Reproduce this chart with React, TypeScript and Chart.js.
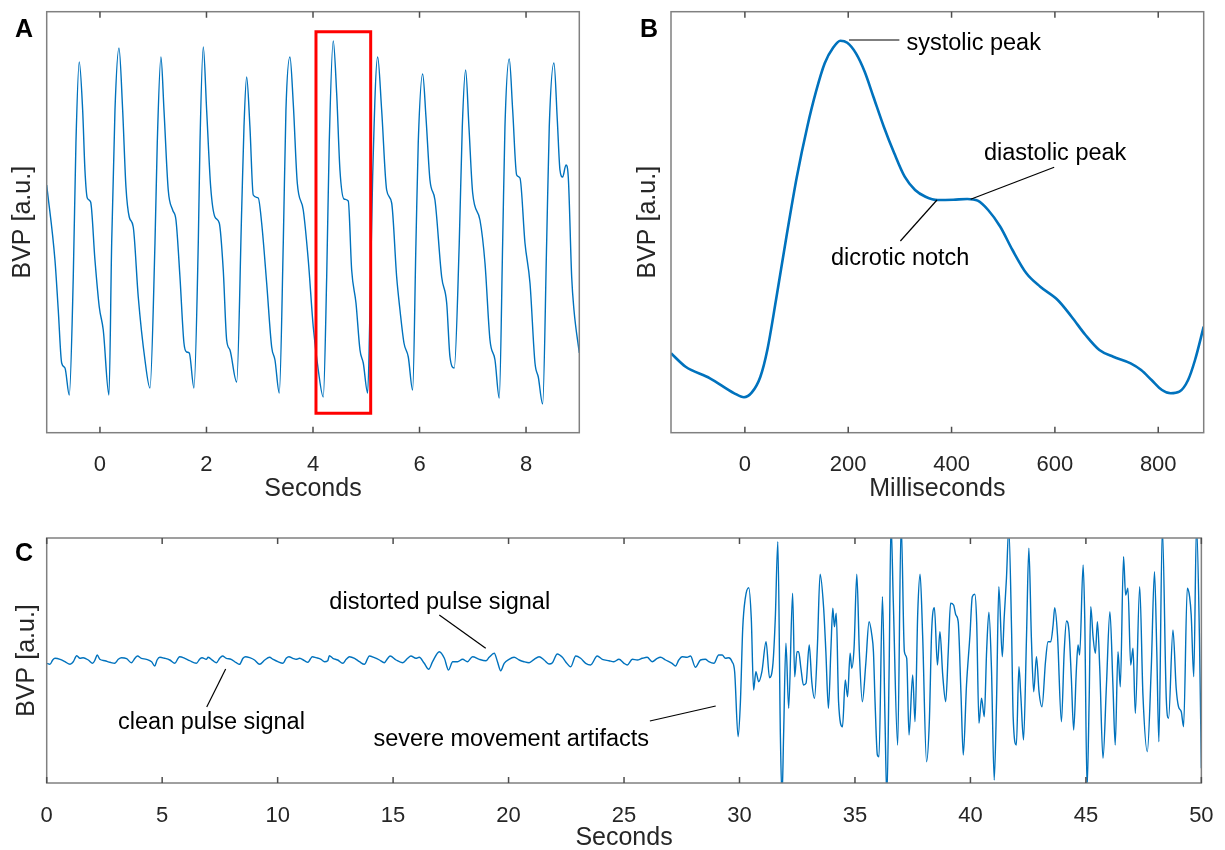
import React, { useEffect, useRef } from "react";
import { Chart, registerables } from "chart.js";

Chart.register(...registerables);

const FONT = '"Liberation Sans", Arial, Helvetica, sans-serif';
const BLUE = "#0072BD";
const TEXT = "#262626";

// ---------- Panel A : BVP over seconds ----------
const aSeconds = [
  -1.0, -0.845, -0.783, -0.719, -0.657, -0.576, -0.501, -0.451, -0.389, -0.325,
  -0.282, -0.238, -0.175, -0.094, -0.013, 0.062, 0.169, 0.22, 0.282, 0.357,
  0.426, 0.488, 0.55, 0.625, 0.719, 0.845, 0.939, 1.033, 1.076, 1.145,
  1.202, 1.282, 1.365, 1.427, 1.502, 1.577, 1.628, 1.677, 1.765, 1.846,
  1.878, 1.94, 2.003, 2.079, 2.159, 2.24, 2.315, 2.379, 2.441, 2.567,
  2.661, 2.704, 2.754, 2.816, 2.878, 2.972, 3.036, 3.13, 3.224, 3.286,
  3.367, 3.442, 3.492, 3.567, 3.629, 3.705, 3.817, 3.911, 4.005, 4.099,
  4.193, 4.257, 4.305, 4.38, 4.444, 4.506, 4.581, 4.662, 4.726, 4.807,
  4.882, 4.944, 5.026, 5.07, 5.12, 5.214, 5.289, 5.383, 5.477, 5.571,
  5.633, 5.708, 5.789, 5.871, 5.933, 5.976, 6.059, 6.121, 6.196, 6.29,
  6.416, 6.51, 6.572, 6.652, 6.746, 6.803, 6.866, 6.928, 6.998, 7.135,
  7.229, 7.323, 7.417, 7.497, 7.561, 7.604, 7.685, 7.749, 7.824, 7.886,
  7.98, 8.074, 8.168, 8.23, 8.312, 8.387, 8.436, 8.524, 8.587, 8.637,
  8.687, 8.75, 8.793, 8.857, 8.9, 9.0,
];
const aBvp = [
  248, 173, 123, 70, 65, 38, 156, 290, 371, 323,
  263, 235, 231, 173, 126, 103, 38, 190, 323, 385,
  323, 246, 216, 206, 136, 73, 45, 190, 290, 376,
  323, 243, 223, 213, 156, 90, 81, 80, 45, 190,
  290, 386, 323, 246, 216, 210, 163, 93, 83, 51,
  223, 306, 356, 306, 238, 235, 210, 150, 86, 73,
  40, 190, 323, 376, 330, 250, 223, 173, 106, 63,
  36, 156, 290, 392, 340, 263, 234, 232, 163, 130,
  83, 70, 40, 123, 256, 376, 323, 243, 230, 156,
  123, 90, 76, 43, 190, 290, 359, 316, 253, 233,
  156, 130, 76, 65, 190, 306, 363, 306, 240, 213,
  170, 93, 73, 35, 190, 306, 374, 323, 258, 255,
  190, 150, 70, 56, 29, 190, 306, 370, 313, 263,
  256, 268, 256, 156, 123, 80,
];
const aTicks = [0, 2, 4, 6, 8];
const aHighlightSeconds = [4.056, 4.056, 5.083, 5.083, 4.056];
const aHighlightBvp = [19.7, 401.3, 401.3, 19.7, 19.7];

// ---------- Panel B : single beat over milliseconds ----------
const bMilliseconds = [
  -143, -114.7, -67.6, -20.5, -1.7, 13.1, 30, 43.4, 60.2, 80.4,
  100.6, 120.8, 137.6, 154.5, 171.3, 184.8, 198.2, 215, 231.9, 248.7,
  268.9, 289.1, 309.3, 329.4, 349.6, 373.2, 403.5, 430.4, 450.6, 470.8,
  494.3, 517.9, 544.8, 571.7, 605.4, 632.3, 659.2, 686.1, 713, 746.7,
  766.9, 787.1, 807.3, 824.1, 840.9, 857.8, 871.2, 888,
];
const bBvp = [
  79.7, 66.3, 54.7, 39.7, 35.7, 40.3, 56.3, 83, 133, 196.3,
  256.3, 306.3, 341.3, 369.7, 385.7, 392.3, 390.3, 379.7, 361.3, 336.3,
  306.3, 279.7, 256.3, 243, 236.3, 233, 233.3, 234, 232.3, 223,
  206.3, 183, 159.7, 146.3, 133, 116.3, 98, 83, 76.3, 69.7,
  63, 53, 43, 39.7, 41.3, 53, 73, 106.3,
];
const bTicks = [0, 200, 400, 600, 800];
const bNotes = [
  { text: "systolic peak", tx: 312.6, ty: 383, x1: 201.6, y1: 393, x2: 299, y2: 393 },
  { text: "diastolic peak", tx: 462.7, ty: 273, x1: 437, y1: 233.7, x2: 598.6, y2: 265.7 },
  { text: "dicrotic notch", tx: 166.6, ty: 168, x1: 371.8, y1: 233, x2: 301, y2: 192 },
];

// ---------- Panel C : 50 s recording with artifacts ----------
const cSeconds = [
  0, 0.14, 0.26, 0.36, 0.58, 0.79, 1.01, 1.15, 1.3, 1.44,
  1.58, 1.8, 1.99, 2.09, 2.19, 2.3, 2.52, 2.74, 2.95, 3.1,
  3.24, 3.46, 3.67, 3.82, 3.93, 4.1, 4.32, 4.54, 4.68, 4.78,
  4.9, 5.11, 5.33, 5.55, 5.69, 5.76, 5.98, 6.19, 6.48, 6.63,
  6.73, 6.91, 6.99, 7.2, 7.35, 7.49, 7.61, 7.78, 7.99, 8.21,
  8.35, 8.5, 8.61, 8.79, 9.0, 9.22, 9.44, 9.65, 9.8, 10.01,
  10.23, 10.37, 10.49, 10.66, 10.8, 10.95, 11.16, 11.31, 11.41, 11.5,
  11.67, 11.88, 12.03, 12.17, 12.24, 12.39, 12.6, 12.82, 12.97, 13.11,
  13.33, 13.54, 13.76, 13.9, 13.97, 14.19, 14.41, 14.62, 14.77, 14.87,
  15.13, 15.41, 15.63, 15.77, 15.99, 16.13, 16.35, 16.54, 16.71, 17.0,
  17.22, 17.4, 17.58, 17.79, 18.01, 18.22, 18.44, 18.73, 19.02, 19.16,
  19.38, 19.52, 19.66, 19.81, 20.02, 20.24, 20.46, 20.67, 20.89, 21.11,
  21.32, 21.54, 21.75, 21.9, 22.11, 22.33, 22.47, 22.69, 22.91, 23.12,
  23.34, 23.55, 23.84, 24.06, 24.35, 24.56, 24.78, 25.0, 25.14, 25.36,
  25.57, 25.79, 26.0, 26.22, 26.44, 26.58, 26.8, 27.08, 27.23, 27.37,
  27.52, 27.73, 27.88, 28.09, 28.31, 28.52, 28.67, 28.89, 29.1, 29.25,
  29.39, 29.53, 29.68, 29.79, 29.94, 30.04, 30.14, 30.25, 30.4, 30.51,
  30.61, 30.71, 30.83, 30.97, 31.15, 31.3, 31.45, 31.55, 31.66, 31.77,
  31.84, 31.91, 32.01, 32.13, 32.3, 32.39, 32.49, 32.56, 32.66, 32.77,
  32.88, 33.02, 33.13, 33.25, 33.37, 33.49, 33.64, 33.74, 33.85, 33.96,
  34.04, 34.11, 34.19, 34.29, 34.46, 34.58, 34.68, 34.79, 34.86, 34.96,
  35.08, 35.19, 35.32, 35.47, 35.61, 35.73, 35.8, 35.87, 35.97, 36.04,
  36.19, 36.3, 36.38, 36.48, 36.56, 36.66, 36.85, 37.0, 37.14, 37.24,
  37.34, 37.5, 37.6, 37.72, 37.82, 37.93, 38.1, 38.22, 38.32, 38.44,
  38.57, 38.68, 38.8, 38.93, 39.04, 39.14, 39.27, 39.37, 39.47, 39.59,
  39.69, 39.83, 39.98, 40.08, 40.19, 40.27, 40.37, 40.48, 40.6, 40.7,
  40.8, 40.91, 41.03, 41.13, 41.23, 41.38, 41.46, 41.56, 41.66, 41.78,
  41.85, 41.99, 42.1, 42.18, 42.3, 42.43, 42.53, 42.64, 42.74, 42.86,
  42.97, 43.1, 43.25, 43.36, 43.48, 43.58, 43.65, 43.77, 43.94, 44.06,
  44.16, 44.27, 44.37, 44.47, 44.59, 44.66, 44.73, 44.88, 44.95, 45.05,
  45.14, 45.21, 45.31, 45.41, 45.5, 45.6, 45.74, 45.89, 46.04, 46.17,
  46.27, 46.39, 46.49, 46.63, 46.72, 46.82, 46.94, 47.04, 47.14, 47.33,
  47.47, 47.66, 47.83, 47.97, 48.07, 48.16, 48.31, 48.48, 48.58, 48.77,
  48.91, 49.01, 49.13, 49.23, 49.39, 49.49, 49.56, 49.67, 49.79, 49.92,
  50.0,
];
const cBvp = [
  119.7, 118.7, 123, 124.7, 123.7, 121.3, 118.7, 121.3, 127.3, 124.7,
  125.3, 123, 119.7, 123, 128, 123.7, 122.3, 120.7, 119.7, 123.7,
  125.3, 124.3, 120.3, 124.7, 127, 124.7, 123.7, 121.3, 117, 123,
  125.7, 124.7, 123, 119.7, 124.7, 126.3, 124.7, 122.3, 119.7, 124,
  125.3, 123.7, 125.7, 122.3, 120.3, 124.7, 127, 124.7, 123.7, 120.3,
  118.7, 124.7, 126.3, 125.3, 123, 118.7, 123, 125.7, 123.7, 121.3,
  119.7, 124.7, 126.3, 124.7, 123.7, 124.7, 122.3, 120.7, 123.7, 126.3,
  125.3, 123.7, 121.3, 122.3, 127.3, 124.7, 123, 119.7, 123.7, 126.3,
  124.7, 121.3, 118.7, 124.7, 127, 125.3, 123, 120.3, 124.7, 127,
  123, 120.3, 124.7, 127, 124.7, 125.7, 119.7, 113.7, 121.3, 131.3,
  124.7, 113, 121.3, 121.3, 123.7, 121.3, 126.3, 123.7, 122.3, 125.7,
  129.7, 121.3, 112.3, 119.7, 123.7, 125.7, 123, 121.3, 120.3, 123.7,
  126.3, 123, 119, 120.3, 129, 125.7, 121.3, 116.3, 127, 124.7,
  119.7, 118, 127, 123.7, 122.3, 121.3, 123.7, 119.7, 118, 123.7,
  123, 124.7, 125.7, 121.3, 124.7, 125.7, 123, 119.7, 117, 123,
  126.3, 125.7, 127, 115.7, 123, 123.7, 121.3, 119.7, 128, 128,
  124.7, 125.3, 121.3, 111.3, 46.3, 81.3, 154.7, 184.7, 195.3, 164.7,
  93, 111.3, 101.3, 111.3, 141.3, 105.3, 119.7, 164.7, 241.3, 48,
  -15, 48, 139.7, 74.7, 189.7, 106.3, 131.3, 131.3, 114.7, 98,
  99.7, 138, 101.3, 84.7, 134.7, 208.7, 176.3, 131.3, 74.7, 134.7,
  174.7, 156.3, 169.7, 81.3, 56.3, 103, 86.3, 129.7, 114.7, 134.7,
  208.7, 131.3, 81.3, 119.7, 161.3, 148, 131.3, 81.3, 28, 26.3,
  186.3, 64.7, -15, 114.7, 260, 181.3, 38, 260, 131.3, 124.7,
  48, 108, 61.3, 171.3, 208.7, 148, 21.3, 61.3, 151.3, 175.3,
  118, 151.3, 108, 81.3, 131.3, 179.7, 178, 168, 161.3, 90,
  28, 98, 148, 186.3, 188.7, 161.3, 59.7, 84.7, 66.3, 131.3,
  170.7, 114.7, 3, 81.3, 196.3, 126.3, 164.7, 204.7, 255, 154.7,
  66.3, 38, 116.3, 88, 43, 148, 234.7, 144.7, 91.3, 126.3,
  91.3, 76.3, 121.3, 141.3, 141.3, 158, 175.3, 148, 61.3, 131.3,
  162, 151.3, 104.7, 53, 114.7, 138, 128, 218, 164.7, -5,
  81.3, 176.3, 146.3, 129.7, 161.3, 114.7, 24.7, 98, 171.3, 98,
  38, 131.3, 96.3, 226.3, 188, 194.7, 118, 134.7, 69.7, 196.3,
  88, 31.3, 114.7, 211.3, 131.3, 41.3, 255, 84.7, 64.7, 153,
  94.7, 76.3, 71.3, 56.3, 194.7, 186.3, 168, 106.3, 258, 141.3,
  14.7,
];
const cTicks = [0, 5, 10, 15, 20, 25, 30, 35, 40, 45, 50];
const cNotes = [
  { text: "distorted pulse signal", tx: 12.24, ty: 174, x1: 17.0, y1: 168, x2: 19.01, y2: 134.7 },
  { text: "clean pulse signal", tx: 3.09, ty: 54, x1: 7.75, y1: 114, x2: 6.93, y2: 76 },
  { text: "severe movement artifacts", tx: 14.15, ty: 37, x1: 26.12, y1: 62, x2: 28.97, y2: 77 },
];

type Note = { text: string; tx: number; ty: number; x1: number; y1: number; x2: number; y2: number };

function makeDecor(letter: string, lx: number, ly: number, notes: Note[]) {
  return {
    id: "panelDecor",
    afterDraw(chart: any) {
      const { ctx, chartArea: a, scales } = chart;
      const xs = scales.x;
      const ys = scales.y;
      ctx.save();
      // axes box
      ctx.strokeStyle = "#808080";
      ctx.lineWidth = 1.5;
      ctx.strokeRect(a.left, a.top, a.right - a.left, a.bottom - a.top);
      // inward tick marks at top and bottom
      ctx.strokeStyle = "#4d4d4d";
      ctx.lineWidth = 1.5;
      ctx.beginPath();
      for (const t of xs.ticks) {
        const px = xs.getPixelForValue(t.value);
        ctx.moveTo(px, a.bottom);
        ctx.lineTo(px, a.bottom - 6);
        ctx.moveTo(px, a.top);
        ctx.lineTo(px, a.top + 6);
      }
      ctx.stroke();
      // annotations
      ctx.strokeStyle = "#000";
      ctx.fillStyle = "#000";
      ctx.lineWidth = 1.2;
      ctx.font = `23.5px ${FONT}`;
      ctx.textAlign = "left";
      ctx.textBaseline = "alphabetic";
      for (const n of notes) {
        ctx.beginPath();
        ctx.moveTo(xs.getPixelForValue(n.x1), ys.getPixelForValue(n.y1));
        ctx.lineTo(xs.getPixelForValue(n.x2), ys.getPixelForValue(n.y2));
        ctx.stroke();
        ctx.fillText(n.text, xs.getPixelForValue(n.tx), ys.getPixelForValue(n.ty));
      }
      // panel letter
      ctx.font = `bold 25px ${FONT}`;
      ctx.fillText(letter, lx, ly);
      ctx.restore();
    },
  };
}

function xAxis(min: number, max: number, ticks: number[], title: string, height: number, tickPad: number, titlePad: number) {
  return {
    type: "linear",
    min,
    max,
    afterBuildTicks: (s: any) => {
      s.ticks = ticks.map((value) => ({ value }));
    },
    afterFit: (s: any) => {
      s.height = height;
    },
    grid: { display: false },
    border: { display: false },
    ticks: {
      color: TEXT,
      font: { family: FONT, size: 22, lineHeight: 1.2 },
      padding: tickPad,
      maxRotation: 0,
      minRotation: 0,
      autoSkip: false,
      callback: (v: any) => String(v),
    },
    title: {
      display: true,
      text: title,
      color: TEXT,
      font: { family: FONT, size: 25, lineHeight: 1 },
      padding: { top: 0, bottom: titlePad },
    },
  };
}

function yAxis(min: number, max: number, width: number, titlePad: number) {
  return {
    type: "linear",
    min,
    max,
    afterFit: (s: any) => {
      s.width = width;
    },
    grid: { display: false },
    border: { display: false },
    ticks: { display: false },
    title: {
      display: true,
      text: "BVP [a.u.]",
      color: TEXT,
      font: { family: FONT, size: 25, lineHeight: 1 },
      padding: { top: titlePad, bottom: 0 },
    },
  };
}

function pts(xs: number[], ys: number[]) {
  return xs.map((x, i) => ({ x, y: ys[i] }));
}

function baseOptions(padding: any, x: any, y: any) {
  return {
    responsive: false,
    animation: false,
    devicePixelRatio: 1,
    events: [],
    layout: { padding },
    scales: { x, y },
    plugins: { legend: { display: false }, tooltip: { enabled: false } },
    elements: { point: { radius: 0 } },
  };
}

function configA() {
  return {
    type: "line",
    data: {
      datasets: [
        {
          data: pts(aHighlightSeconds, aHighlightBvp),
          borderColor: "#FF0000",
          borderWidth: 3,
          tension: 0,
          borderJoinStyle: "miter",
          borderCapStyle: "square",
          pointRadius: 0,
          fill: false,
        },
        {
          data: pts(aSeconds, aBvp),
          borderColor: BLUE,
          borderWidth: 1.4,
          cubicInterpolationMode: "monotone",
          pointRadius: 0,
          fill: false,
        },
      ],
    },
    options: baseOptions(
      { left: 0, top: 11.7, right: 32.7, bottom: 0 },
      xAxis(-1, 9, aTicks, "Seconds", 87.3, 11.4, 18.3),
      yAxis(0.3, 421.3, 46.7, 10.5)
    ),
    plugins: [makeDecor("A", 15, 37, [])],
  };
}

function configB() {
  return {
    type: "line",
    data: {
      datasets: [
        {
          data: pts(bMilliseconds, bBvp),
          borderColor: BLUE,
          borderWidth: 2.6,
          cubicInterpolationMode: "monotone",
          pointRadius: 0,
          fill: false,
        },
      ],
    },
    options: baseOptions(
      { left: 0, top: 11.7, right: 21.3, bottom: 0 },
      xAxis(-143, 888, bTicks, "Milliseconds", 87.3, 11.4, 18.3),
      yAxis(0.3, 421.3, 59, 23.5)
    ),
    plugins: [makeDecor("B", 28, 37, bNotes)],
  };
}

function configC() {
  return {
    type: "line",
    data: {
      datasets: [
        {
          data: pts(cSeconds, cBvp),
          borderColor: BLUE,
          borderWidth: 1.4,
          cubicInterpolationMode: "monotone",
          pointRadius: 0,
          fill: false,
        },
      ],
    },
    options: baseOptions(
      { left: 0, top: 18, right: 21.5, bottom: 0 },
      xAxis(0, 50, cTicks, "Seconds", 77, 11.4, 9.5),
      yAxis(0, 245, 46.7, 14.5)
    ),
    plugins: [makeDecor("C", 15, 41, cNotes)],
  };
}

function ChartCanvas(props: { make: () => any; left: number; top: number; width: number; height: number }) {
  const ref = useRef<HTMLCanvasElement | null>(null);
  useEffect(() => {
    if (!ref.current) return;
    const chart = new Chart(ref.current, props.make() as any);
    return () => chart.destroy();
  }, []);
  return (
    <canvas
      ref={ref}
      width={props.width}
      height={props.height}
      style={{
        position: "absolute",
        left: props.left,
        top: props.top,
        width: props.width,
        height: props.height,
        display: "block",
      }}
    />
  );
}

export default function App() {
  return (
    <div
      style={{
        position: "absolute",
        left: 0,
        top: 0,
        width: 1225,
        height: 850,
        overflow: "hidden",
        background: "#ffffff",
      }}
    >
      <ChartCanvas make={configA} left={0} top={0} width={612} height={520} />
      <ChartCanvas make={configB} left={612} top={0} width={613} height={520} />
      <ChartCanvas make={configC} left={0} top={520} width={1225} height={340} />
    </div>
  );
}
